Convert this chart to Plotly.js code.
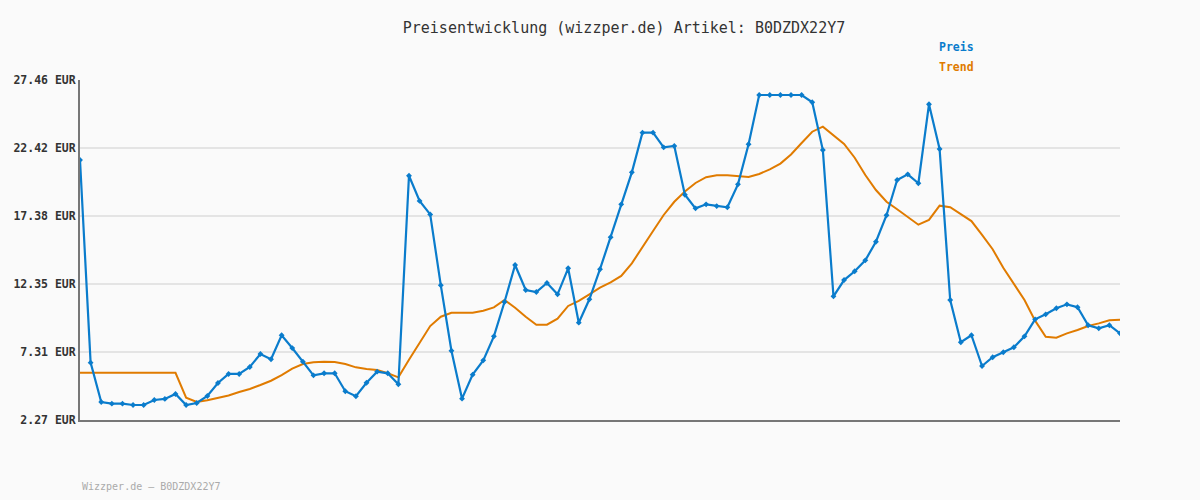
<!DOCTYPE html>
<html>
<head>
<meta charset="utf-8">
<script src="https://cdn.plot.ly/plotly-3.0.1.min.js"></script>
<style>html,body{margin:0;padding:0;background:#fafafa;}#chart{width:1200px;height:500px;}</style>
</head>
<body>
<div id="chart"></div>
<script>
const preis = [21.53, 6.52, 3.60, 3.48, 3.48, 3.38, 3.38, 3.75, 3.83, 4.20,
  3.38, 3.53, 4.05, 5.01, 5.68, 5.68, 6.20, 7.16, 6.77, 8.55,
  7.60, 6.59, 5.58, 5.73, 5.73, 4.40, 4.03, 5.03, 5.85, 5.73,
  4.92, 20.37, 18.50, 17.50, 12.25, 7.40, 3.85, 5.63, 6.69, 8.47,
  11.01, 13.75, 11.90, 11.75, 12.42, 11.58, 13.51, 9.48, 11.21, 13.44,
  15.81, 18.25, 20.62, 23.56, 23.56, 22.47, 22.57, 18.96, 17.95, 18.25,
  18.12, 18.03, 19.73, 22.70, 26.35, 26.35, 26.35, 26.35, 26.35, 25.81,
  22.27, 11.43, 12.64, 13.29, 14.10, 15.48, 17.44, 20.05, 20.47, 19.81,
  25.66, 22.35, 11.16, 8.03, 8.55, 6.27, 6.92, 7.29, 7.66, 8.47,
  9.73, 10.10, 10.55, 10.84, 10.62, 9.29, 9.06, 9.29, 8.69];
const trend = [5.77, 5.77, 5.77, 5.77, 5.77, 5.77, 5.77, 5.77, 5.77, 5.77,
  3.92, 3.60, 3.74, 3.90, 4.09, 4.34, 4.57, 4.86, 5.18, 5.60,
  6.07, 6.42, 6.55, 6.59, 6.57, 6.42, 6.17, 6.05, 5.97, 5.73,
  5.43, 6.74, 8.01, 9.23, 9.92, 10.22, 10.22, 10.22, 10.37, 10.61,
  11.16, 10.59, 9.92, 9.33, 9.33, 9.78, 10.72, 11.09, 11.58, 12.07,
  12.47, 12.94, 13.88, 15.11, 16.27, 17.46, 18.44, 19.20, 19.83, 20.26,
  20.40, 20.40, 20.35, 20.27, 20.50, 20.84, 21.27, 21.94, 22.79, 23.63,
  24.00, 23.39, 22.72, 21.70, 20.42, 19.31, 18.44, 17.88, 17.33, 16.74,
  17.09, 18.15, 18.03, 17.51, 17.01, 15.98, 14.92, 13.55, 12.40, 11.16,
  9.63, 8.44, 8.37, 8.69, 8.94, 9.23, 9.43, 9.66, 9.70];
const yTicks = [2.27, 7.31, 12.35, 17.38, 22.42, 27.46];
const yTickText = yTicks.map(v => v.toFixed(2) + ' EUR');
const idx = preis.map((_, i) => i);

const mono = '"DejaVu Sans Mono", "Liberation Mono", monospace';
const blue = '#0a7ccc';
const orange = '#e07b00';

const data = [
  {x: idx, y: trend, type: 'scatter', mode: 'lines', name: 'Trend',
   line: {color: orange, width: 2}, hoverinfo: 'skip'},
  {x: idx, y: preis, type: 'scatter', mode: 'lines+markers', name: 'Preis',
   line: {color: blue, width: 2.2}, marker: {symbol: 'diamond', size: 4.5, color: blue}}
];

const layout = {
  width: 1200, height: 500,
  paper_bgcolor: '#fafafa', plot_bgcolor: '#fafafa',
  margin: {l: 80, r: 80, t: 80, b: 80},
  showlegend: false,
  title: {text: 'Preisentwicklung (wizzper.de) Artikel: B0DZDX22Y7',
    font: {family: mono, size: 15, color: '#333'}, x: 0.52, xanchor: 'center', y: 0.944, yanchor: 'middle'},
  xaxis: {range: [0, preis.length - 1], showgrid: false, zeroline: false,
    showticklabels: false, ticks: '', showline: true, linecolor: '#777', linewidth: 2},
  yaxis: {range: [2.27, 27.46], tickmode: 'array', tickvals: yTicks, ticktext: yTickText,
    showgrid: true, gridcolor: '#e4e4e4', gridwidth: 2, zeroline: false,
    showline: true, linecolor: '#777', linewidth: 2, ticks: '', ticklen: 0,
    tickfont: {family: mono, size: 11.5, color: '#333', weight: 'bold'}},
  annotations: [
    {text: '<b>Preis</b>', xref: 'paper', yref: 'paper', x: 0.824, y: 1.097, xanchor: 'left', yanchor: 'middle',
     showarrow: false, font: {family: mono, size: 11.5, color: blue}},
    {text: '<b>Trend</b>', xref: 'paper', yref: 'paper', x: 0.824, y: 1.038, xanchor: 'left', yanchor: 'middle',
     showarrow: false, font: {family: mono, size: 11.5, color: orange}},
    {text: 'Wizzper.de – B0DZDX22Y7', xref: 'paper', yref: 'paper', x: 0, y: -0.197, xanchor: 'left', yanchor: 'middle',
     showarrow: false, font: {family: mono, size: 10, color: '#aaa'}}
  ]
};

Plotly.newPlot('chart', data, layout, {displayModeBar: false, staticPlot: true});
</script>
</body>
</html>
